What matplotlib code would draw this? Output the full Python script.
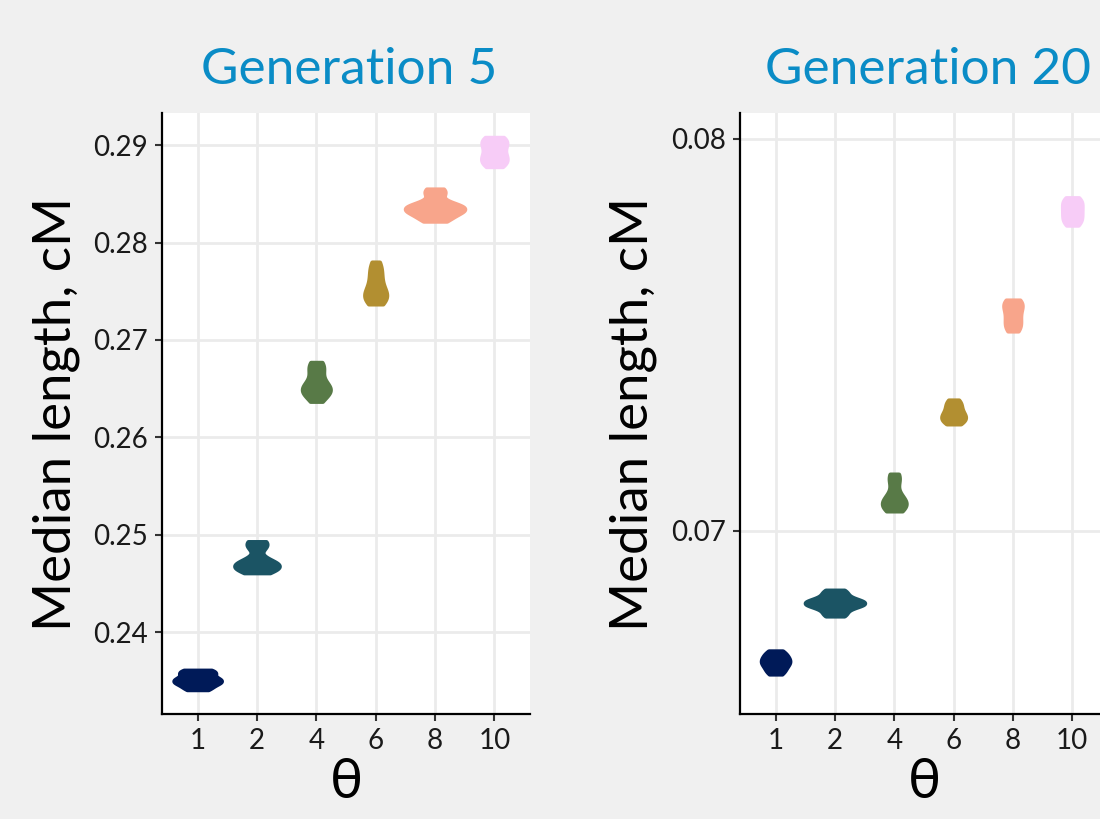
import matplotlib
matplotlib.use("Agg")
import matplotlib.pyplot as plt

# theta levels shown on the x axis
thetas = ["1", "2", "4", "6", "8", "10"]
colors = ["#001a58", "#1b5464", "#587a47", "#b28f31", "#f8a58b", "#f7ccf7"]

# median segment length (cM), generation 5
g5_t1 = [0.2341, 0.2342, 0.2344, 0.2346, 0.2348, 0.2349, 0.2350, 0.2350, 0.2351,
         0.2352, 0.2354, 0.2357, 0.2358, 0.2359, 0.2360, 0.2361]
g5_t2 = [0.2461, 0.2463, 0.2465, 0.2466, 0.2467, 0.2467, 0.2468, 0.2468, 0.2469,
         0.2470, 0.2471, 0.2473, 0.2476, 0.2488, 0.2489, 0.2490, 0.2492, 0.2493]
g5_t4 = [0.2637, 0.2640, 0.2643, 0.2645, 0.2647, 0.2648, 0.2649, 0.2650, 0.2651,
         0.2653, 0.2655, 0.2658, 0.2662, 0.2666, 0.2670, 0.2673, 0.2675, 0.2677]
g5_t6 = [0.2737, 0.2739, 0.2741, 0.2743, 0.2745, 0.2746, 0.2748, 0.2750, 0.2753,
         0.2756, 0.2760, 0.2764, 0.2768, 0.2772, 0.2776, 0.2780]
g5_t8 = [0.2822, 0.2824, 0.2826, 0.2829, 0.2831, 0.2833, 0.2834, 0.2835, 0.2835,
         0.2836, 0.2837, 0.2839, 0.2841, 0.2850, 0.2852, 0.2855]
g5_t10 = [0.2878, 0.2880, 0.2882, 0.2884, 0.2886, 0.2888, 0.2890, 0.2893, 0.2896,
          0.2899, 0.2901, 0.2903, 0.2905, 0.2907, 0.2908]

# median segment length (cM), generation 20
g20_t1 = [0.06635, 0.06642, 0.06648, 0.06655, 0.06660, 0.06664, 0.06668, 0.06672,
          0.06677, 0.06682, 0.06688, 0.06694]
g20_t2 = [0.06783, 0.06788, 0.06795, 0.06805, 0.06810, 0.06813, 0.06815, 0.06816,
          0.06817, 0.06819, 0.06822, 0.06828, 0.06838, 0.06843, 0.06849]
g20_t4 = [0.07051, 0.07055, 0.07060, 0.07064, 0.07067, 0.07070, 0.07073, 0.07077,
          0.07082, 0.07090, 0.07098, 0.07120, 0.07132, 0.07140, 0.07145]
g20_t6 = [0.07273, 0.07278, 0.07283, 0.07287, 0.07291, 0.07295, 0.07300, 0.07306,
          0.07313, 0.07320, 0.07327, 0.07334]
g20_t8 = [0.07510, 0.07517, 0.07525, 0.07533, 0.07541, 0.07550, 0.07559, 0.07567,
          0.07574, 0.07580, 0.07585, 0.07589]
g20_t10 = [0.07780, 0.07786, 0.07792, 0.07798, 0.07804, 0.07810, 0.07816, 0.07822,
           0.07828, 0.07834, 0.07840, 0.07845, 0.07850]

gen5 = [g5_t1, g5_t2, g5_t4, g5_t6, g5_t8, g5_t10]
gen20 = [g20_t1, g20_t2, g20_t4, g20_t6, g20_t8, g20_t10]

plt.rcParams['font.family'] = ['Lato', 'DejaVu Sans']

bg = "#f0f0f0"
fig = plt.figure(figsize=(11, 8.19), dpi=100, facecolor=bg)

panels = [
    ("Generation 5", gen5, [0.80, 0.75, 0.47, 0.37, 1.00, 0.43],
     [0.24, 0.25, 0.26, 0.27, 0.28, 0.29], (0.2316, 0.2933), 0.1473),
    ("Generation 20", gen20, [0.48, 1.00, 0.40, 0.40, 0.31, 0.33],
     [0.07, 0.08], (0.06533, 0.08066), 0.6727),
]

for title, data, widths, yticks, ylim, left in panels:
    ax = fig.add_axes([left, 0.1282, 0.3345, 0.7338])
    ax.set_facecolor("white")
    pos = list(range(1, len(thetas) + 1))
    parts = ax.violinplot(data, positions=pos, widths=widths,
                          showextrema=False, bw_method=0.5)
    for body, c in zip(parts['bodies'], colors):
        body.set_facecolor(c)
        body.set_edgecolor(c)
        body.set_linewidth(3)
        body.set_joinstyle('round')
        body.set_alpha(1)
    ax.set_xlim(0.4, 6.6)
    ax.set_ylim(*ylim)
    ax.set_xticks(pos)
    ax.set_xticklabels(thetas)
    ax.set_yticks(yticks)
    ax.set_yticklabels(["%g" % v for v in yticks])
    ax.grid(True, color="#ebebeb", lw=2)
    ax.set_axisbelow(True)
    for s in ["top", "right"]:
        ax.spines[s].set_visible(False)
    for s in ["left", "bottom"]:
        ax.spines[s].set_linewidth(1.6)
        ax.spines[s].set_color("black")
    ax.tick_params(labelsize=20, length=5, width=1.5, color="#333333",
                   labelcolor="#1a1a1a", pad=5)
    ax.set_title(title, fontsize=37, color="#0a8cc6", pad=21, x=0.51)
    ax.set_xlabel("θ", fontsize=40, labelpad=2)
    ax.set_ylabel("Median length, cM", fontsize=38, labelpad=10)

fig.savefig("out.png", dpi=100, facecolor=bg)
